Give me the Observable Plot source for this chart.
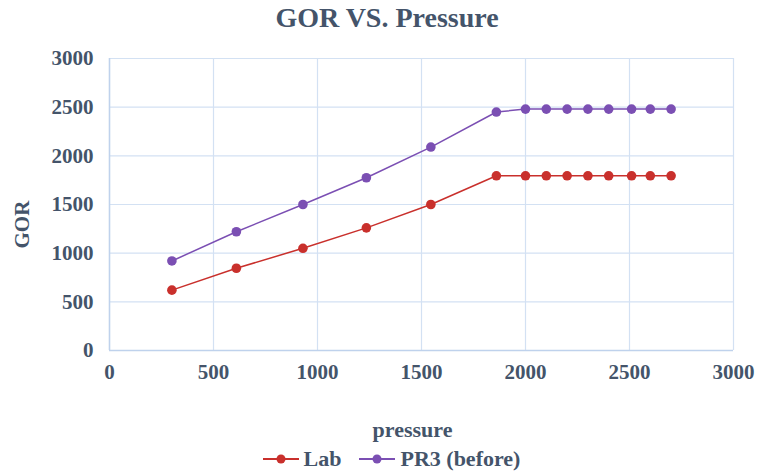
<!DOCTYPE html>
<html>
<head>
<meta charset="utf-8">
<script src="https://cdn.jsdelivr.net/npm/d3@7"></script>
<script src="https://cdn.jsdelivr.net/npm/@observablehq/plot@0.6"></script>
<style>
  body { margin: 0; background: #fff; }
  #chart { width: 757px; font-family: "Liberation Serif", "Times New Roman", serif; color: #44546a; }
  h1 { margin: 0; height: 40px; line-height: 36px; text-align: center; font-size: 28px; font-weight: bold; padding-left: 17px; box-sizing: border-box; }
  #chart > svg { display: block; }
  .legend { display: flex; justify-content: center; align-items: center; gap: 18px; height: 27px; font-size: 22px; font-weight: bold; padding-left: 26px; box-sizing: border-box; line-height: 22px; }
  .legend .item { display: flex; align-items: center; gap: 5px; }
  .legend svg { display: block; }
</style>
</head>
<body>
<div id="chart"></div>
<script>
// Pressure steps and gas-oil ratio for each series
const pressure = [300, 610, 930, 1235, 1545, 1860, 2000, 2100, 2200, 2300, 2400, 2510, 2600, 2700];
const labGOR   = [620, 845, 1050, 1260, 1500, 1795, 1795, 1795, 1795, 1795, 1795, 1795, 1795, 1795];
const pr3GOR   = [920, 1220, 1500, 1775, 2090, 2450, 2480, 2480, 2480, 2480, 2480, 2480, 2480, 2480];
const seriesNames = ["Lab", "PR3 (before)"];
const seriesColors = ["#c9302c", "#7b4fb3"];
const axisTicks = [0, 500, 1000, 1500, 2000, 2500, 3000];
const xTitle = "pressure";
const yTitle = "GOR";

const rows = [
  ...pressure.map((p, i) => ({pressure: p, gor: labGOR[i], series: seriesNames[0]})),
  ...pressure.map((p, i) => ({pressure: p, gor: pr3GOR[i], series: seriesNames[1]}))
];

const textColor = "#44546a";
const gridColor = "#d3e1f3";
const serif = '"Liberation Serif", "Times New Roman", serif';

const plot = Plot.plot({
  width: 757,
  height: 405,
  marginLeft: 109,
  marginRight: 24,
  marginTop: 18,
  marginBottom: 95,
  style: {fontFamily: serif, fontSize: "21px", fontWeight: "bold", color: textColor, background: "#fff"},
  x: {domain: [0, 3000]},
  y: {domain: [0, 3000]},
  color: {domain: seriesNames, range: seriesColors},
  marks: [
    Plot.gridX(axisTicks, {stroke: gridColor, strokeOpacity: 1, strokeWidth: 1.2}),
    Plot.gridY(axisTicks, {stroke: gridColor, strokeOpacity: 1, strokeWidth: 1.2}),
    Plot.ruleX([0], {stroke: "#bfd2ec", strokeWidth: 1.5}),
    Plot.ruleY([0], {stroke: "#bfd2ec", strokeWidth: 1.5}),
    Plot.line(rows, {x: "pressure", y: "gor", z: "series", stroke: "series", strokeWidth: 1.5}),
    Plot.dot(rows, {x: "pressure", y: "gor", fill: "series", r: 4.8}),
    Plot.axisX(axisTicks, {tickSize: 0, tickPadding: 14, tickFormat: d => String(d), fill: textColor, label: null}),
    Plot.axisY(axisTicks, {tickSize: 0, tickPadding: 16, tickFormat: d => String(d), fill: textColor, label: null}),
    Plot.text([xTitle], {frameAnchor: "bottom", dx: -9, dy: 86, text: d => d, fill: textColor, fontSize: 22, fontWeight: "bold"}),
    Plot.text([yTitle], {frameAnchor: "left", dx: -87, dy: 44, rotate: -90, text: d => d, fill: textColor, fontSize: 21, fontWeight: "bold"})
  ]
});

const root = document.getElementById("chart");
const title = document.createElement("h1");
title.textContent = "GOR VS. Pressure";
root.appendChild(title);
root.appendChild(plot);

const legend = document.createElement("div");
legend.className = "legend";
seriesNames.forEach((name, i) => {
  const item = document.createElement("span");
  item.className = "item";
  item.innerHTML = `<svg width="36" height="12"><line x1="0" y1="6" x2="36" y2="6" stroke="${seriesColors[i]}" stroke-width="2"/><circle cx="18" cy="6" r="4.5" fill="${seriesColors[i]}"/></svg>`;
  const label = document.createElement("span");
  label.textContent = name;
  item.appendChild(label);
  legend.appendChild(item);
});
root.appendChild(legend);
</script>
</body>
</html>
